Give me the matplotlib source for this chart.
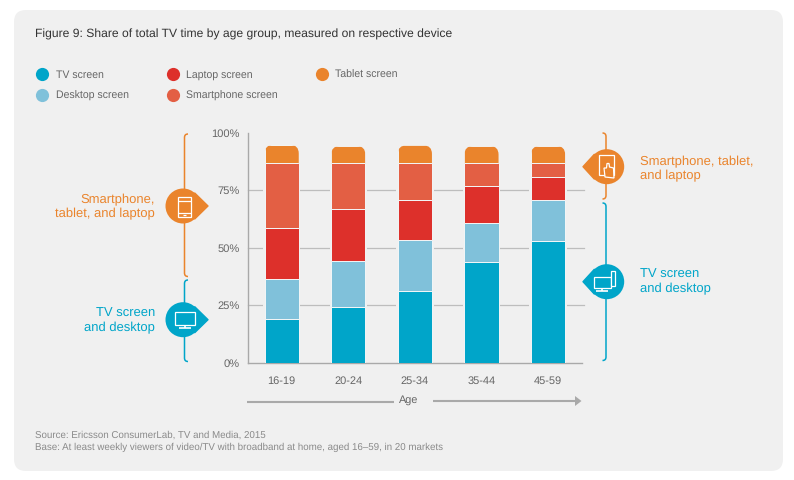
import math
import matplotlib
matplotlib.use("Agg")
import matplotlib.pyplot as plt
from matplotlib.patches import FancyBboxPatch, Circle, Polygon, PathPatch
from matplotlib.path import Path
from matplotlib.lines import Line2D
from matplotlib.transforms import IdentityTransform

plt.rcParams['font.family'] = ['Liberation Sans', 'DejaVu Sans']
plt.rcParams['text.hinting'] = 'no_hinting'

ages = ["16-19", "20-24", "25-34", "35-44", "45-59"]
tv = [18.9, 24.1, 31.1, 44.0, 52.8]
desktop = [17.7, 20.1, 22.2, 16.8, 18.1]
laptop = [22.0, 22.7, 17.6, 16.1, 9.9]
smartphone = [28.3, 20.0, 16.0, 10.0, 6.1]
tablet = [7.9, 7.4, 7.7, 7.4, 7.4]
series_names = ["TV screen", "Desktop screen", "Laptop screen", "Smartphone screen", "Tablet screen"]
series_colors = ["#00a5c9", "#80c1da", "#dd302b", "#e35f44", "#ea842c"]
series_values = [tv, desktop, laptop, smartphone, tablet]
y_ticks = [0, 25, 50, 75, 100]

PANEL = "#f0f0f0"
ORANGE = "#ea842c"
TEAL = "#00a5c9"
GREY = "#a9a9a9"
W, H = 794, 480

fig = plt.figure(figsize=(W / 100, H / 100), dpi=100, facecolor="white")

# overlay in pixel coordinates for the panel and the annotations
bg = fig.add_axes([0, 0, 1, 1], zorder=0)
bg.set_xlim(0, W)
bg.set_ylim(H, 0)
bg.axis("off")
bg.add_patch(FancyBboxPatch((14, 10), 769, 461, boxstyle="round,pad=0,rounding_size=12",
                            fc=PANEL, ec="none"))

# main chart
ax = fig.add_axes([248 / W, 1 - 362.5 / H, (582 - 248) / W, (362.5 - 133) / H], zorder=1)
ax.patch.set_visible(False)
ax.set_xlim(-0.506, 4.509)
ax.set_ylim(0, 100)
ax.set_yticks(y_ticks)
ax.set_yticklabels([f"{v}%" for v in y_ticks])
ax.set_xticks(range(len(ages)))
ax.set_xticklabels(ages)
ax.tick_params(length=0, labelcolor="#666666")
ax.tick_params(axis="x", pad=9.5, labelsize=7.9)
ax.tick_params(axis="y", pad=6, labelsize=8.0)
for s in ("top", "right"):
    ax.spines[s].set_visible(False)
for s in ("left", "bottom"):
    ax.spines[s].set_color(GREY)
    ax.spines[s].set_linewidth(1.0)
for v in y_ticks[1:-1]:
    ax.plot([-0.506, 4.54], [v, v], color="#bdbdbd", lw=0.9, zorder=1, clip_on=False)

x = list(range(len(ages)))
totals = [sum(vals) for vals in zip(*series_values)]
ax.bar(x, totals, width=0.56, color=PANEL, zorder=2)
base = [0.0] * len(ages)
last = None
for vals, col in zip(series_values, series_colors):
    last = ax.bar(x, vals, bottom=base, width=0.512, color=col,
                  edgecolor="#f3f6f7", linewidth=0.7, zorder=3)
    base = [b + v for b, v in zip(base, vals)]

# round the top corners of the tablet segments
fig.canvas.draw()
for rect in last:
    bb = rect.get_window_extent()
    x0, x1, y0, y1 = bb.x0, bb.x1, bb.y0 - 3, bb.y1
    r = 8.5
    clip = Path([(x0, y0), (x1, y0), (x1, y1 - r), (x1, y1), (x1 - r, y1),
                 (x0 + r, y1), (x0, y1), (x0, y1 - r), (x0, y0)],
                [Path.MOVETO, Path.LINETO, Path.LINETO, Path.CURVE3, Path.CURVE3,
                 Path.LINETO, Path.CURVE3, Path.CURVE3, Path.CLOSEPOLY])
    rect.set_clip_path(clip, IdentityTransform())

# title, notes
bg.text(35, 34.5, "Figure 9: Share of total TV time by age group, measured on respective device",
        fontsize=8.77, color="#333333", va="center")
bg.text(35, 435, "Source: Ericsson ConsumerLab, TV and Media, 2015", fontsize=7.04, color="#8a8a8a", va="center")
bg.text(35, 447, "Base: At least weekly viewers of video/TV with broadband at home, aged 16–59, in 20 markets",
        fontsize=7.04, color="#8a8a8a", va="center")

# legend
order_handles = [Line2D([], [], ls="none", marker="o", ms=9.5, mfc=c, mec="none", label=n)
                 for n, c in zip(series_names, series_colors)]
bg.legend(handles=order_handles, ncol=3, frameon=False, loc="upper left",
          bbox_to_anchor=(34 / W, 1 - 69.5 / H), borderpad=0, borderaxespad=0,
          handletextpad=0.45, columnspacing=3.37, labelspacing=1.04, handlelength=1.6,
          prop={"size": 7.6}, labelcolor="#666666")

# age arrow
bg.text(409, 400, "Age", fontsize=7.8, color="#666666", ha="center", va="center")
bg.plot([247, 394], [401.5, 401.5], color=GREY, lw=1.5, solid_capstyle="butt")
bg.plot([433, 576], [401, 401], color=GREY, lw=1.5, solid_capstyle="butt")
bg.add_patch(Polygon([(575, 396), (581.5, 401), (575, 406)], fc=GREY, ec="none"))


def bracket(xc, y0, y1, direction, color):
    r = 3.5 * direction
    verts = [(xc + r, y0), (xc, y0), (xc, y0 + 3.5), (xc, y1 - 3.5), (xc, y1), (xc + r, y1)]
    codes = [Path.MOVETO, Path.CURVE3, Path.CURVE3, Path.LINETO, Path.CURVE3, Path.CURVE3]
    bg.add_patch(PathPatch(Path(verts, codes), fc="none", ec=color, lw=1.1))


def badge(cx, cy, tip_x, color):
    r = 17.5
    d = abs(tip_x - cx)
    sign = 1 if tip_x > cx else -1
    a = math.acos(r / d)
    tx, ty = r * math.cos(a), r * math.sin(a)
    bg.add_patch(Circle((cx, cy), r, fc=color, ec="none", zorder=3))
    bg.add_patch(Polygon([(cx + sign * tx, cy - ty), (tip_x - sign * 1, cy), (cx + sign * tx, cy + ty)],
                         fc=color, ec=color, lw=1.0, zorder=3, joinstyle="round"))


def icon_line(pts, lw=0.9, fill=False, color="white"):
    bg.add_patch(Polygon(pts, closed=True, fc=color if fill else "none", ec="white",
                         lw=lw, zorder=4))


def seg(x0, y0, x1, y1, lw=0.9):
    bg.plot([x0, x1], [y0, y1], color="white", lw=lw, zorder=4, solid_capstyle="butt")


def monitor(cx, cy, w, h):
    icon_line([(cx - w / 2, cy - h / 2), (cx + w / 2, cy - h / 2),
               (cx + w / 2, cy + h / 2), (cx - w / 2, cy + h / 2)])
    seg(cx, cy + h / 2, cx, cy + h / 2 + 3, 1.2)
    seg(cx - 6, cy + h / 2 + 3.2, cx + 6, cy + h / 2 + 3.2, 1.2)


# left annotations
bracket(184.5, 134, 276.5, 1, ORANGE)
bracket(184.5, 280, 361.5, 1, TEAL)
badge(183, 206, 209, ORANGE)
badge(183, 319.7, 209, TEAL)
icon_line([(178, 196.5), (191, 196.5), (191, 217), (178, 217)])
seg(178, 200.5, 191, 200.5)
seg(178, 213, 191, 213)
seg(183, 215, 186, 215)
monitor(185, 318.5, 20, 13)

# right annotations
bracket(606, 133, 199, -1, ORANGE)
bracket(606, 203, 360.5, -1, TEAL)
badge(606.7, 166.7, 582, ORANGE)
badge(606.7, 281.7, 582, TEAL)
icon_line([(598.5, 155), (613.5, 155), (613.5, 175), (598.5, 175)])
icon_line([(605, 177), (604, 168), (606.5, 168), (607, 163.5), (609, 163.5), (609.5, 167),
           (613.5, 168), (614, 178)], fill=True, color=ORANGE)
monitor(602, 282, 17, 11)
icon_line([(610.5, 271), (615, 271), (615, 286), (610.5, 286)], fill=True, color=TEAL)

for x_t, y_t, lines, col, ha, fs in [
    (155, 200, ["Smartphone,", "tablet, and laptop"], ORANGE, "right", 9.4),
    (155, 313.7, ["TV screen", "and desktop"], TEAL, "right", 9.4),
    (640, 162, ["Smartphone, tablet,", "and laptop"], ORANGE, "left", 9.35),
    (640, 275, ["TV screen", "and desktop"], TEAL, "left", 9.35),
]:
    for i, line in enumerate(lines):
        bg.text(x_t, y_t + i * 14.3, line, fontsize=fs, color=col, ha=ha, va="center")

fig.savefig("out.png", dpi=100, facecolor="white")
